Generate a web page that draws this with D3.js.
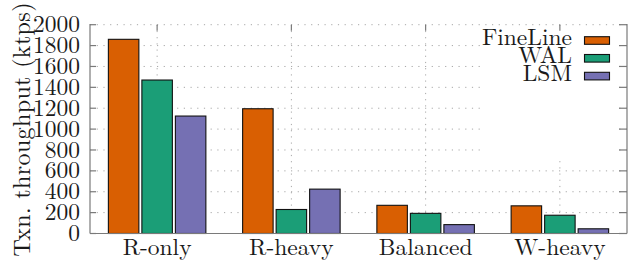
<!DOCTYPE html>
<html>
<head>
<meta charset="utf-8">
<script src="https://cdn.jsdelivr.net/npm/d3@7"></script>
<style>
  html, body { margin: 0; padding: 0; background: #fff; }
  svg { display: block; }
  svg text { font-family: "Latin Modern Roman", "Liberation Serif", serif; fill: #1a1a1a; }
</style>
</head>
<body>
<svg id="chart" width="634" height="264"></svg>
<script>
const categories = ["R-only", "R-heavy", "Balanced", "W-heavy"];
const seriesNames = ["FineLine", "WAL", "LSM"];
const fineLine = [1860, 1195, 270, 265];
const wal = [1470, 230, 193, 175];
const lsm = [1125, 425, 85, 45];
const yTicks = [0, 200, 400, 600, 800, 1000, 1200, 1400, 1600, 1800, 2000];
const colors = ["#d95f02", "#1b9e77", "#7570b3"];
const yTitle = "Txn. throughput (ktps)";

const seriesValues = [fineLine, wal, lsm];
const svg = d3.select("#chart");
const pLeft = 90, pRight = 627, pTop = 24.7, pBottom = 233.5;

const x0 = d3.scaleBand().domain(categories).range([pLeft, pRight]).padding(0);
const x1 = d3.scaleBand().domain(seriesNames).range([-48.75, 48.75]).paddingInner(0.09).paddingOuter(0);
const y = d3.scaleLinear().domain([0, 2000]).range([pBottom, pTop]);
const color = d3.scaleOrdinal().domain(seriesNames).range(colors);

const gridColor = "#a8a8a8";
svg.append("g").selectAll("line").data(yTicks).join("line")
  .attr("x1", pLeft).attr("x2", pRight)
  .attr("y1", d => y(d)).attr("y2", d => y(d))
  .attr("stroke", gridColor).attr("stroke-width", 1)
  .attr("stroke-dasharray", "1.2,5.5");
svg.append("g").selectAll("line").data(categories).join("line")
  .attr("x1", d => x0(d) + x0.bandwidth() / 2).attr("x2", d => x0(d) + x0.bandwidth() / 2)
  .attr("y1", pTop).attr("y2", pBottom)
  .attr("stroke", gridColor).attr("stroke-width", 1)
  .attr("stroke-dasharray", "1.2,5");

svg.append("rect").attr("x", 482).attr("y", 27).attr("width", 136).attr("height", 130).attr("fill", "#fff");

const data = [];
categories.forEach((c, i) => seriesNames.forEach((s, j) => data.push({c, s, v: seriesValues[j][i]})));
svg.append("g").selectAll("rect").data(data).join("rect")
  .attr("x", d => x0(d.c) + x0.bandwidth() / 2 + x1(d.s))
  .attr("width", x1.bandwidth())
  .attr("y", d => y(d.v))
  .attr("height", d => y(0) - y(d.v))
  .attr("fill", d => color(d.s))
  .attr("stroke", "#111").attr("stroke-width", 1.1);

const axisColor = "#7a7a7a";
const ag = svg.append("g").attr("stroke", axisColor).attr("stroke-width", 1.2);
ag.append("line").attr("x1", pLeft).attr("x2", pLeft).attr("y1", pTop - 0.6).attr("y2", pBottom);
ag.append("line").attr("x1", pRight).attr("x2", pRight).attr("y1", pTop - 0.6).attr("y2", pBottom);
ag.append("line").attr("x1", pLeft).attr("x2", pRight).attr("y1", pBottom).attr("y2", pBottom);
ag.selectAll(".lt").data(yTicks).join("line").attr("class", "lt")
  .attr("x1", pLeft).attr("x2", pLeft + 6).attr("y1", d => y(d)).attr("y2", d => y(d));
ag.selectAll(".rt").data(yTicks).join("line").attr("class", "rt")
  .attr("x1", pRight - 8).attr("x2", pRight).attr("y1", d => y(d)).attr("y2", d => y(d));
ag.selectAll(".tt").data(categories).join("line").attr("class", "tt")
  .attr("x1", d => x0(d) + x0.bandwidth() / 2).attr("x2", d => x0(d) + x0.bandwidth() / 2)
  .attr("y1", pTop).attr("y2", pTop + 6);

svg.append("g").selectAll("text").data(yTicks).join("text")
  .attr("x", 80).attr("y", d => y(d) + 7.6)
  .attr("text-anchor", "end").style("font-size", "23.5px")
  .text(d => d);

svg.append("g").selectAll("text").data(categories).join("text")
  .attr("x", d => x0(d) + x0.bandwidth() / 2).attr("y", 255)
  .attr("text-anchor", "middle").style("font-size", "23.5px")
  .text(d => d);

svg.append("text")
  .attr("transform", "translate(29.5," + 129.5 + ") rotate(-90)")
  .attr("text-anchor", "middle").style("font-size", "24px")
  .attr("textLength", 254).attr("lengthAdjust", "spacing")
  .text(yTitle);

const lg = svg.append("g");
seriesNames.forEach((s, i) => {
  const cy = 40.5 + i * 17.8;
  lg.append("rect").attr("x", 584.5).attr("y", cy - 3.8).attr("width", 25).attr("height", 7.6)
    .attr("fill", color(s)).attr("stroke", "#111").attr("stroke-width", 1.1);
  lg.append("text").attr("x", 572).attr("y", cy + 4.4)
    .attr("text-anchor", "end").style("font-size", "23.5px").text(s);
});
</script>
</body>
</html>
